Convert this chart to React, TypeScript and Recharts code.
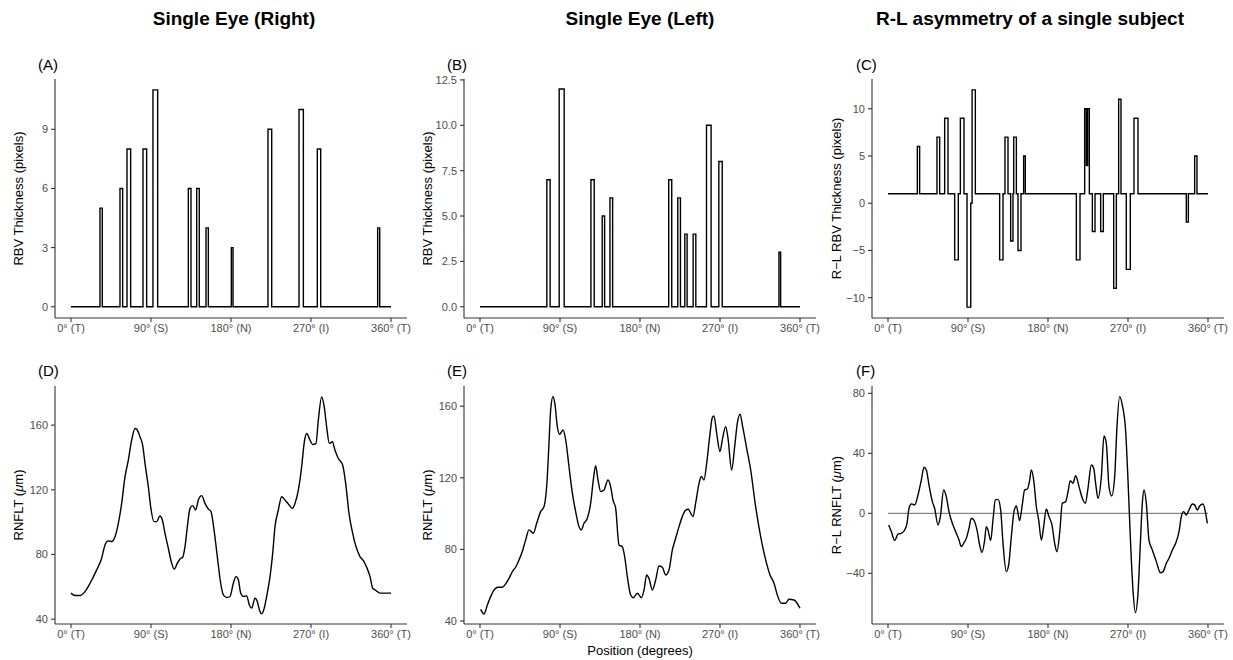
import React from "react";
import { LineChart, Line, XAxis, YAxis, ReferenceLine } from "recharts";

// ---------- shared axis ----------
const DEG_TICKS = [0, 90, 180, 270, 360];
const DEG_LABELS = ["0° (T)", "90° (S)", "180° (N)", "270° (I)", "360° (T)"];

// ---------- (A) RBV thickness, right eye (step transitions) ----------
const rbvRightPos = [0, 32.6, 35.2, 55.1, 58.1, 63, 67.1, 81, 85.1, 92.2, 97.5, 132, 135, 141.4, 144.3, 151.9, 154.5, 180.4, 182.3, 221.6, 225.8, 256.5, 261.4, 277.1, 280.9, 345, 347.3, 360];
const rbvRightVal = [0, 5, 0, 6, 0, 8, 0, 8, 0, 11, 0, 6, 0, 6, 0, 4, 0, 3, 0, 9, 0, 10, 0, 8, 0, 4, 0, 0];

// ---------- (B) RBV thickness, left eye ----------
const rbvLeftPos = [0, 75.2, 78.9, 89.1, 94.7, 124.8, 128.5, 137.5, 140.2, 146.2, 149.2, 212.3, 215.7, 222.5, 225.5, 230.4, 233, 239.8, 242.8, 254.8, 260, 268.7, 272.5, 336.3, 338.2, 360];
const rbvLeftVal = [0, 7, 0, 12, 0, 7, 0, 5, 0, 6, 0, 7, 0, 6, 0, 4, 0, 4, 0, 10, 0, 8, 0, 3, 0, 0];

// ---------- (C) R-L RBV thickness ----------
const rbvDiffPos = [0, 33, 35.6, 55.1, 58.1, 63.75, 67.5, 75, 79.1, 81.4, 85.5, 88.9, 93.1, 94.6, 98.25, 125.6, 129.4, 131.6, 135, 138, 140.6, 141.4, 144.4, 146.25, 149.6, 152.6, 154.5, 211.9, 216, 221.25, 223.1, 224.6, 226.5, 229.9, 232.9, 239.25, 242.25, 253.9, 256.9, 259.5, 262.1, 268.1, 272.6, 276.75, 281.25, 335.6, 337.9, 345, 347.6, 360];
const rbvDiffVal = [1, 6, 1, 7, 1, 9, 1, -6, 1, 9, 1, -11, 0, 12, 1, -6, 1, 7, 1, -4, 1, 7, 1, -5, 1, 5, 1, -6, 1, 10, 4, 10, 1, -3, 1, -3, 1, -9, 1, 11, 1, -7, 1, 9, 1, -2, 1, 5, 1, 1];

// ---------- (D) RNFLT right eye ----------
const rnfltRightPos = [0, 4.5, 10, 15.75, 21.4, 28.9, 34.5, 38.25, 42, 45.75, 49.5, 53.25, 57, 60.75, 64.5, 68.25, 72, 73.9, 77.6, 80.6, 83.25, 87, 89.6, 93.4, 96.4, 100, 102.75, 105.75, 109.5, 113.25, 116.25, 119.6, 122.6, 125.6, 128.25, 130.9, 133.9, 136.9, 140.25, 143.25, 147, 150.75, 154.5, 157.5, 160.9, 164.6, 168.4, 171.4, 175.1, 178.9, 182.6, 185.6, 188.25, 190.9, 193.9, 197.6, 200.6, 203.25, 207, 209.6, 211.9, 214.5, 217.1, 220.1, 223.9, 226.9, 229.5, 233.25, 237, 240.75, 244.5, 249, 252, 255.75, 259.5, 262.5, 265.1, 268.9, 271.9, 275.6, 278.25, 282, 284.6, 287.6, 290.6, 294, 297, 300.75, 305.6, 309, 312.75, 316.9, 320.6, 325.1, 328.9, 332.6, 336.4, 339.4, 343.1, 347.6, 360];
const rnfltRightVal = [56.1, 54.6, 54.6, 57, 62.2, 70.5, 77.7, 85.9, 88.4, 88, 91, 99.3, 111.6, 128, 138.4, 150.7, 157.9, 157.5, 152.8, 147.6, 136.3, 121.9, 109.6, 100.3, 100.3, 103.8, 101.3, 93.1, 83.8, 74.6, 70.9, 74.6, 77.2, 78.3, 84.9, 97.2, 108.5, 110.2, 107.5, 113.7, 116.4, 111.6, 108.1, 106.5, 95.2, 78.7, 62.2, 55, 53.4, 54, 62.2, 66.3, 64.3, 56.1, 54, 54.4, 48.8, 46.8, 53, 50.9, 45.8, 43.3, 46.2, 54, 66.3, 80.7, 97.2, 107.5, 115.7, 113.7, 111.2, 108.5, 111.6, 119.8, 134.3, 149.7, 154.8, 150.7, 148, 148.7, 163.1, 177.5, 172.3, 159, 148.7, 149.7, 144.5, 139.4, 135.3, 124, 105.4, 93.1, 84.9, 78.7, 76.2, 72.1, 66.3, 59.1, 57.7, 56.1, 56.1];

// ---------- (E) RNFLT left eye ----------
const rnfltLeftPos = [0.75, 4.5, 8.25, 12, 16.5, 20.25, 25.1, 28.9, 32.6, 36.4, 40.1, 43.9, 47.6, 51.4, 55.1, 60, 63.75, 68.25, 72, 75.75, 77.6, 79.5, 82.1, 84.4, 87, 89.6, 93.4, 96.4, 100.1, 103.9, 107.6, 111.4, 114, 117, 120.75, 124.5, 127.5, 130.1, 132.75, 135.75, 139.5, 144, 147, 149.6, 152.6, 156.4, 160.1, 162.75, 165.75, 169.5, 172.5, 177, 181.5, 184.5, 187.5, 190.1, 193.9, 197.6, 201.4, 205.1, 208.9, 212.6, 216.4, 220.1, 223.9, 227.6, 231.4, 234.4, 237, 239.6, 242.6, 246.4, 249, 252, 255, 258.4, 261.4, 263.25, 266.25, 270, 272.6, 276.4, 279, 283.1, 286.5, 289.5, 292.5, 295.5, 300, 304.5, 310.1, 315.75, 321.4, 326.25, 330.75, 334.5, 339, 343.9, 347.6, 353.25, 360];
const rnfltLeftVal = [46.5, 43.9, 48.9, 53.6, 57.7, 58.8, 58.8, 60.7, 63.8, 67.6, 70, 74.1, 78.8, 85.3, 90.9, 89, 94.6, 101.1, 103.9, 120.7, 139.3, 157.9, 165.4, 160.7, 148.6, 144.3, 146.7, 141.2, 126.3, 111.4, 101.1, 92.7, 90.9, 94.6, 97.4, 105.8, 118.8, 126.8, 118.8, 112.3, 113.2, 118.8, 115.1, 107.6, 103, 82.5, 81.5, 76, 64.8, 54.5, 53, 55.5, 53, 57.3, 65.7, 63.8, 57.3, 62.9, 70.7, 70, 65.7, 68.5, 79.7, 86.2, 92.7, 98.3, 102, 102.4, 100.2, 98.3, 105.8, 116.9, 120.7, 118.8, 128.1, 143, 153.8, 154.6, 144.9, 134.6, 141.2, 148.6, 142.1, 124.4, 137.4, 150.5, 155.5, 148.6, 136.5, 124.4, 103.9, 87.1, 74.1, 65.7, 61.1, 54.5, 49.9, 49.9, 52.1, 51.7, 47.1];

// ---------- (F) R-L RNFLT ----------
const rnfltDiffPos = [0.75, 3.75, 7.5, 11.25, 15, 18.75, 21.4, 23.6, 26.25, 30, 33.75, 37.5, 40.5, 43.1, 46.1, 49.9, 52.5, 56.25, 58.9, 62.6, 65.6, 68.6, 72.4, 76.1, 79.9, 82.5, 85.1, 88.1, 91.1, 93.75, 96.4, 100.1, 103.1, 105.75, 108.75, 110.6, 112.5, 115.5, 118.1, 120.75, 123.75, 126.75, 129.4, 133.1, 135.75, 138.75, 141.75, 144.4, 148.1, 150.75, 153.75, 156.75, 159.4, 161.25, 163.9, 166.9, 169.5, 172.5, 175.1, 178.1, 181.1, 184.5, 187.5, 190.1, 193.1, 196.1, 199.9, 202.5, 205.1, 208.1, 211.1, 214.9, 218.6, 222, 225, 228.75, 231.4, 233.6, 236.25, 240, 243, 245.6, 248.6, 251.6, 255, 257.6, 260.6, 263.6, 267.4, 270, 272.6, 275.6, 278.25, 281.25, 283.9, 286.1, 288, 290.6, 293.6, 297.4, 301.9, 306.4, 309.4, 313.1, 316.1, 319.9, 323.6, 327.4, 330, 332.6, 335.6, 338.6, 342.4, 345, 348, 350.6, 354.4, 357, 359.25];
const rnfltDiffVal = [-7.8, -12.2, -18.2, -13.8, -13.3, -11.1, -6.7, 3.3, 6.2, 5.6, 12.2, 22.2, 30.7, 28.9, 18.9, 7.8, 3.3, -7.8, -2.2, 15.6, 11.1, 1.1, -6.7, -12.2, -17.8, -22.2, -20, -16.7, -10, -3.3, -4.4, -11.1, -21.1, -26.2, -17.8, -8.9, -11.1, -18.2, -4.4, 8.9, 9.3, 2.2, -20, -38.9, -34.4, -15.6, 1.1, 4.9, -4.9, 4.4, 15.6, 16.2, 22.2, 28.9, 22.2, 4.4, -4.4, -17.8, -8.9, 2.9, -2.2, -7.8, -20, -25.6, -13.3, 6.7, 7.8, 14.4, 21.8, 20, 25.1, 17.8, 10, 6.7, 16.7, 32.2, 30, 20, 10, 24.4, 51.6, 46.7, 17.8, 11.6, 24.4, 57.8, 77.8, 72.2, 54.4, 22.2, -15.6, -51.1, -66.2, -53.3, -20, 6.7, 15.6, 6.7, -17.8, -24.4, -32.2, -39.6, -38.9, -33.3, -30, -24.4, -20, -12.2, -2.2, 1.1, -1.1, 2.2, 6.2, 5.6, 2.2, 4.9, 6.2, 1.1, -6.7];

// ---------- y ticks ----------
const ticksA = [0, 3, 6, 9];
const ticksB = [0, 2.5, 5, 7.5, 10, 12.5];
const ticksC = [-10, -5, 0, 5, 10];
const ticksD = [40, 80, 120, 160];
const ticksE = [40, 80, 120, 160];
const ticksF = [-40, 0, 40, 80];

const FONT = "'Liberation Sans', Arial, Helvetica, sans-serif";

function toRows(pos: number[], val: number[]) {
  return pos.map((p, i) => ({ x: p, y: val[i] }));
}

const fmtMinus = (v: number) => (v < 0 ? "\u2212" + Math.abs(v) : String(v));

type PanelProps = {
  left: number;
  top: number;
  plotH: number;
  data: { x: number; y: number }[];
  yDomain: [number, number];
  yTicks: number[];
  yFmt?: (v: number) => string;
  step?: boolean;
  zeroLine?: boolean;
};

function Panel({ left, top, plotH, data, yDomain, yTicks, yFmt, step, zeroLine }: PanelProps) {
  const yAxisW = 55;
  const mTop = 10;
  const xAxisH = 30;
  const plotW = 352;
  const W = yAxisW + plotW + 15;
  const H = mTop + plotH + xAxisH;
  const axisStroke = "#333333";
  return (
    <div style={{ position: "absolute", left: left - yAxisW, top: top - mTop }}>
      <LineChart width={W} height={H} data={data} margin={{ top: mTop, right: 15, bottom: 0, left: 0 }}>
        <XAxis
          dataKey="x"
          type="number"
          domain={[-18, 378]}
          allowDataOverflow
          ticks={DEG_TICKS}
          tickFormatter={(v: number) => DEG_LABELS[DEG_TICKS.indexOf(v)]}
          height={xAxisH}
          interval={0}
          axisLine={{ stroke: axisStroke, strokeWidth: 1.1 }}
          tickLine={{ stroke: axisStroke, strokeWidth: 1.1 }}
          tickSize={4}
          tickMargin={2}
          tick={{ fontSize: 11, fill: "#4d4d4d", fontFamily: FONT }}
        />
        <YAxis
          type="number"
          domain={yDomain}
          allowDataOverflow
          ticks={yTicks}
          interval={0}
          width={yAxisW}
          tickFormatter={yFmt || ((v: number) => String(v))}
          axisLine={{ stroke: axisStroke, strokeWidth: 1.1 }}
          tickLine={{ stroke: axisStroke, strokeWidth: 1.1 }}
          tickSize={4}
          tickMargin={3}
          tick={{ fontSize: 11, fill: "#4d4d4d", fontFamily: FONT }}
        />
        {zeroLine ? (
          <ReferenceLine
            segment={[{ x: 0, y: 0 }, { x: 360, y: 0 }]}
            stroke="#666666"
            strokeWidth={1}
            ifOverflow="visible"
          />
        ) : null}
        <Line
          dataKey="y"
          type={step ? "stepAfter" : "monotone"}
          stroke="#000000"
          strokeWidth={1.4}
          dot={false}
          activeDot={false}
          isAnimationActive={false}
        />
      </LineChart>
    </div>
  );
}

function YTitle({ x, y, children }: { x: number; y: number; children: React.ReactNode }) {
  return (
    <text
      x={x}
      y={y}
      transform={`rotate(-90 ${x} ${y})`}
      textAnchor="middle"
      dominantBaseline="central"
      fontSize={13}
      fill="#000"
      fontFamily={FONT}
    >
      {children}
    </text>
  );
}

export default function App() {
  const topRow = 79;
  const botRow = 386;
  const cols = [55, 464, 872];
  return (
    <div
      style={{
        position: "absolute",
        left: 0,
        top: 0,
        width: 1233,
        height: 660,
        background: "#ffffff",
        fontFamily: FONT,
        overflow: "hidden",
      }}
    >
      <Panel left={cols[0]} top={topRow} plotH={239} data={toRows(rbvRightPos, rbvRightVal)} yDomain={[-0.57, 11.55]} yTicks={ticksA} step />
      <Panel left={cols[1]} top={topRow} plotH={239} data={toRows(rbvLeftPos, rbvLeftVal)} yDomain={[-0.62, 12.55]} yTicks={ticksB} yFmt={(v) => v.toFixed(1)} step />
      <Panel left={cols[2]} top={topRow} plotH={239} data={toRows(rbvDiffPos, rbvDiffVal)} yDomain={[-12.15, 13.15]} yTicks={ticksC} yFmt={fmtMinus} step />
      <Panel left={cols[0]} top={botRow} plotH={238} data={toRows(rnfltRightPos, rnfltRightVal)} yDomain={[37, 184.2]} yTicks={ticksD} />
      <Panel left={cols[1]} top={botRow} plotH={238} data={toRows(rnfltLeftPos, rnfltLeftVal)} yDomain={[38.3, 171.3]} yTicks={ticksE} />
      <Panel left={cols[2]} top={botRow} plotH={238} data={toRows(rnfltDiffPos, rnfltDiffVal)} yDomain={[-73.8, 84.9]} yTicks={ticksF} yFmt={fmtMinus} zeroLine />

      <svg width={1233} height={660} style={{ position: "absolute", left: 0, top: 0, pointerEvents: "none" }}>
        <g fontFamily={FONT} fontWeight="bold" fontSize={19} fill="#000" textAnchor="middle">
          <text x={234} y={25}>Single Eye (Right)</text>
          <text x={640} y={25}>Single Eye (Left)</text>
          <text x={1030} y={25}>R-L asymmetry of a single subject</text>
        </g>
        <g fontFamily={FONT} fontSize={15} fill="#000">
          <text x={38} y={70}>(A)</text>
          <text x={447} y={70}>(B)</text>
          <text x={856} y={70}>(C)</text>
          <text x={38} y={376}>(D)</text>
          <text x={447} y={376}>(E)</text>
          <text x={856} y={376}>(F)</text>
        </g>
        <YTitle x={18} y={198.5}>RBV Thickness (pixels)</YTitle>
        <YTitle x={427} y={198.5}>RBV Thickness (pixels)</YTitle>
        <YTitle x={836} y={198.5}>R{"\u2212"}L RBV Thickness (pixels)</YTitle>
        <YTitle x={18} y={505}>
          RNFLT (<tspan fontStyle="italic">μ</tspan>m)
        </YTitle>
        <YTitle x={427} y={505}>
          RNFLT (<tspan fontStyle="italic">μ</tspan>m)
        </YTitle>
        <YTitle x={836} y={505}>
          R{"\u2212"}L RNFLT (<tspan fontStyle="italic">μ</tspan>m)
        </YTitle>
        <text x={640} y={655} textAnchor="middle" fontSize={13} fill="#000" fontFamily={FONT}>
          Position (degrees)
        </text>
      </svg>
    </div>
  );
}
